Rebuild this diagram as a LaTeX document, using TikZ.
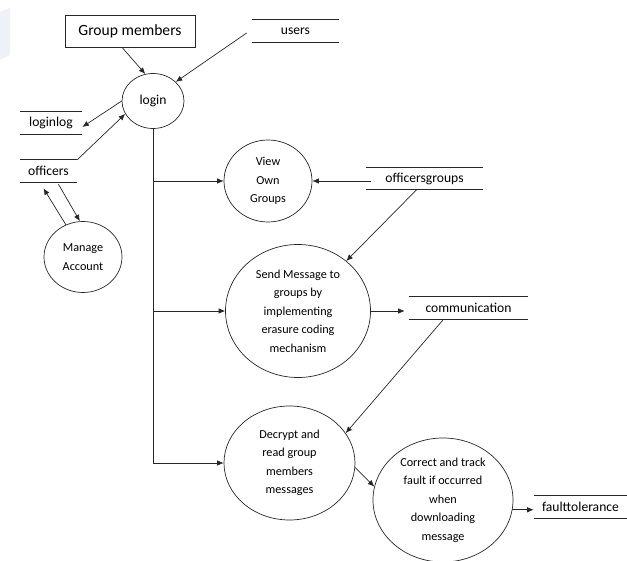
\documentclass[tikz,border=0pt]{standalone}
\usepackage{fontspec}
\setmainfont{Carlito}
\usetikzlibrary{shapes.geometric,arrows.meta,positioning}
\definecolor{wmark}{RGB}{238,242,247}
\tikzset{
  proc/.style={ellipse,draw,inner sep=0pt,align=center,font=\fontsize{12.2}{18.5}\selectfont},
  store/.style={inner sep=0pt,minimum height=22pt,font=\fontsize{13.6}{15}\selectfont},
  flow/.style={-{Latex[length=6.5pt,width=5.5pt]}},
}
\begin{document}
\begin{tikzpicture}[x=1pt,y=-1pt,line width=0.7pt,draw=black!85]
\useasboundingbox (0,0) rectangle (627,561);
\fill[fill=wmark] (0,12) -- (10,8) -- (10,55) -- (0,60) -- cycle; %faint mark

% external entity and stores
\node[draw,minimum width=130pt,minimum height=32pt,font=\fontsize{15.6}{17}\selectfont] (members) at (130,31) {Group members};
\node[store,minimum width=87pt] (users) at (295.5,31) {users};
\node[store,minimum width=62pt] (loginlog) at (51,123) {loginlog};
\node[store,minimum width=57pt] (officers) at (48.5,171) {officers};
\node[store,minimum width=117pt] (ogroups) at (424.5,178.5) {officersgroups};
\node[store,minimum width=119pt] (comm) at (468.5,308) {communication};
\node[store,minimum width=93pt] (fault) at (580.5,507) {faulttolerance};

% processes
\node[proc,minimum width=62pt,minimum height=55pt,font=\fontsize{13.6}{15}\selectfont] (login) at (153,101) {login};
\node[proc,minimum width=78pt,minimum height=71pt] (manage) at (83,257) {Manage\\Account};
\node[proc,minimum width=88pt,minimum height=82pt] (view) at (268,181) {View\\Own\\Groups};
\node[proc,minimum width=145pt,minimum height=133pt] (send) at (298,311) {Send Message to\\groups by\\implementing\\erasure coding\\mechanism};
\node[proc,minimum width=131pt,minimum height=114pt] (decrypt) at (289.5,463) {Decrypt and\\read group\\members\\messages};
\node[proc,minimum width=140pt,minimum height=124pt] (correct) at (443,500) {Correct and track\\fault if occurred\\when\\downloading\\message};

% store lines
\foreach \s in {users,loginlog,officers,ogroups,comm,fault}
  \draw (\s.north west) -- (\s.north east) (\s.south west) -- (\s.south east);

% flows
\draw[flow] ([xshift=-8pt]members.south) -- (login.106);
\draw[flow] ([xshift=-5pt,yshift=-2pt]users.west) -- (login.40);
\draw[flow] (login.west) -- ([yshift=-4pt]loginlog.east);
\draw[flow] (officers.north east) -- (login.205);
\draw[flow] (manage.118) -- ([shift={(-5pt,-6pt)}]officers.south);
\draw[flow] ([shift={(10pt,-2pt)}]officers.south) -- (manage.95);

\draw (login.south) -- (login.south |- decrypt.west);
\draw[flow] (login.south |- view.west) -- (view.west);
\draw[flow] (login.south |- send.west) -- (send.west);
\draw[flow] (login.south |- decrypt.west) -- (decrypt.west);

\draw[flow] ([xshift=5pt]ogroups.west |- view.east) -- (view.east);
\draw[flow] ([xshift=-8pt]ogroups.south) -- (send.46);
\draw[flow] (send.east) -- ([xshift=-4pt]send.east -| comm.west);
\draw[flow] ([xshift=-25pt]comm.south) -- (decrypt.28);
\draw[flow] (decrypt.-4) -- (correct.169);
\draw[flow] (correct.-8) -- (correct.-8 -| fault.west);
\end{tikzpicture}
\end{document}
